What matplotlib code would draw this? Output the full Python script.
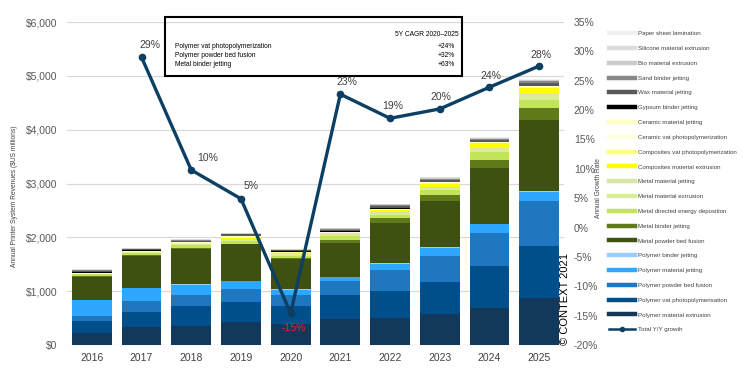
import numpy as np
import matplotlib
matplotlib.use('Agg')
import matplotlib.pyplot as plt
from matplotlib.lines import Line2D
from matplotlib.patches import Rectangle

plt.rcParams['font.family'] = ['Liberation Sans', 'DejaVu Sans']

years = ['2016', '2017', '2018', '2019', '2020', '2021', '2022', '2023', '2024', '2025']

# revenues in $US millions, bottom of stack first
poly_mat_extrusion = [223, 334, 353, 427, 390, 483, 507, 576, 687, 879]
poly_vat_photo = [229, 279, 372, 372, 334, 446, 496, 595, 780, 960]
poly_pbf = [93, 204, 204, 242, 204, 260, 390, 483, 613, 836]
poly_mat_jetting = [284, 236, 185, 140, 93, 65, 115, 150, 160, 175]
poly_binder_jetting = [13, 15, 15, 15, 10, 10, 10, 12, 12, 12]
metal_pbf = [427, 587, 661, 672, 561, 632, 739, 868, 1031, 1321]
metal_binder_jetting = [9, 26, 20, 10, 20, 56, 93, 111, 162, 223]
metal_ded = [37, 30, 40, 55, 42, 74, 62, 87, 136, 154]
metal_mat_extrusion = [6, 8, 20, 25, 30, 24, 30, 40, 56, 87]
metal_mat_jetting = [5, 5, 10, 20, 15, 12, 20, 20, 30, 24]
comp_mat_extrusion = [0, 3, 5, 10, 12, 18, 37, 55, 80, 106]
comp_vat_photo = [0, 3, 5, 10, 8, 8, 10, 15, 8, 10]
ceramic_vat_photo = [5, 3, 5, 10, 5, 6, 8, 10, 6, 8]
ceramic_mat_jetting = [10, 5, 10, 15, 10, 10, 12, 10, 6, 8]
gypsum_binder_jetting = [20, 20, 10, 5, 3, 5, 22, 5, 3, 3]
wax_mat_jetting = [15, 18, 20, 25, 22, 25, 25, 30, 37, 56]
sand_binder_jetting = [15, 15, 15, 15, 12, 22, 25, 25, 24, 43]
bio_mat_extrusion = [10, 8, 8, 8, 6, 10, 10, 12, 15, 15]
silicone_mat_extrusion = [8, 6, 6, 5, 4, 6, 6, 8, 6, 8]
paper_sheet_lamination = [6, 5, 5, 4, 3, 4, 5, 5, 4, 5]

growth_years = years[1:]
growth = [29.0, 9.8, 4.9, -14.6, 22.7, 18.6, 20.2, 23.9, 27.5]

cagr_names = ['Polymer vat photopolymerization', 'Polymer powder bed fusion', 'Metal binder jetting']
cagr_vals = ['+24%', '+32%', '+63%']

series = [
    ('Polymer material extrusion', poly_mat_extrusion, '#12395c'),
    ('Polymer vat photopolymerisation', poly_vat_photo, '#004f8a'),
    ('Polymer powder bed fusion', poly_pbf, '#1f77bf'),
    ('Polymer material jetting', poly_mat_jetting, '#2ea8ff'),
    ('Polymer binder jetting', poly_binder_jetting, '#99ccff'),
    ('Metal powder bed fusion', metal_pbf, '#3f5110'),
    ('Metal binder jetting', metal_binder_jetting, '#5e7a19'),
    ('Metal directed energy deposition', metal_ded, '#c3e35b'),
    ('Metal material extrusion', metal_mat_extrusion, '#d9ee97'),
    ('Metal material jetting', metal_mat_jetting, '#d6e6a5'),
    ('Composites material extrusion', comp_mat_extrusion, '#ffff00'),
    ('Composites vat photopolymerization', comp_vat_photo, '#ffff80'),
    ('Ceramic vat photopolymerization', ceramic_vat_photo, '#ffffdd'),
    ('Ceramic material jetting', ceramic_mat_jetting, '#ffffc0'),
    ('Gypsum binder jetting', gypsum_binder_jetting, '#000000'),
    ('Wax material jetting', wax_mat_jetting, '#595959'),
    ('Sand binder jetting', sand_binder_jetting, '#888888'),
    ('Bio material extrusion', bio_mat_extrusion, '#cccccc'),
    ('Silicone material extrusion', silicone_mat_extrusion, '#dddddd'),
    ('Paper sheet lamination', paper_sheet_lamination, '#f0f0f0'),
]

line_col = '#0d3f63'
txt_col = '#404040'

fig = plt.figure(figsize=(7.47, 3.77), dpi=100)
ax = fig.add_axes([67/747, 1-345/377, (564-67)/747, (345-22)/377])

x = np.arange(len(years))
bottom = np.zeros(len(years))
for name, vals, col in series:
    ax.bar(x, vals, 0.8, bottom=bottom, color=col, label=name, zorder=2)
    bottom += np.array(vals)

ax.set_xlim(-0.5, 9.5)
ax.set_ylim(0, 6000)
ax.set_yticks(range(0, 6001, 1000))
ax.set_yticklabels(['${:,}'.format(v) for v in range(0, 6001, 1000)])
ax.set_xticks(x)
ax.set_xticklabels(years)
ax.yaxis.grid(True, color='#d9d9d9', lw=0.9)
ax.set_axisbelow(True)
ax.tick_params(length=0, labelsize=7.5, labelcolor='#595959', pad=7)
ax.tick_params(axis='x', labelcolor=txt_col, pad=6)
for s in ax.spines.values():
    s.set_visible(False)

ax2 = ax.twinx()
gx = x[1:]
ax2.plot(gx, growth, color=line_col, lw=2.4, marker='o', ms=4.5, zorder=5)
ax2.set_ylim(-20, 35)
ax2.set_yticks(range(-20, 36, 5))
ax2.set_yticklabels(['{}%'.format(v) for v in range(-20, 36, 5)])
ax2.tick_params(length=0, labelsize=7.5, labelcolor='#595959', pad=7)
for s in ax2.spines.values():
    s.set_visible(False)

offs = [(8, 12), (16, 12), (10, 13), (3, -15), (7, 12), (3, 12), (1, 12), (1, 11), (2, 11)]
for xi, g, o in zip(gx, growth, offs):
    c = '#e8202a' if g < 0 else txt_col
    ax2.annotate('{:.0f}%'.format(g), (xi, g), xytext=o, textcoords='offset pixels',
                 ha='center', va='center', fontsize=7.5, color=c)

fig.text(15/747, 1-196/377, 'Annual Printer System Revenues ($US millions)', rotation=90,
         ha='center', va='center', fontsize=4.8, color=txt_col)
fig.text(599/747, 1-188/377, 'Annual Growth Rate', rotation=90,
         ha='center', va='center', fontsize=4.8, color=txt_col)
fig.text(565/747, 1-345/377, '© CONTEXT 2021', rotation=90,
         ha='center', va='bottom', fontsize=8, color='black')

# CAGR box
fig.add_artist(Rectangle((165/747, 1-75.5/377), (462-165)/747, (75.5-17)/377,
                         transform=fig.transFigure, fill=False, ec='black', lw=1.5))
fig.text(459/747, 1-34.5/377, '5Y CAGR 2020\u20132025', ha='right', va='center', fontsize=4.8)
for i, (n, v) in enumerate(zip(cagr_names, cagr_vals)):
    yy = 1 - (46 + i*9.5)/377
    fig.text(175/747, yy, n, ha='left', va='center', fontsize=4.8)
    fig.text(455/747, yy, v, ha='right', va='center', fontsize=4.8)

handles = [Line2D([0], [0], color=col, lw=3.2) for name, vals, col in series[::-1]]
labels = [name for name, vals, col in series[::-1]]
handles.append(Line2D([0, 0.5, 1], [0, 0, 0], color=line_col, lw=1.8, marker='o', ms=3, markevery=[1]))
labels.append('Total Y/Y growth')
fig.legend(handles, labels, loc='upper left', bbox_to_anchor=(607/747, 1-28.5/377),
           frameon=False, fontsize=4.4, labelspacing=1.56, handlelength=4.25,
           handletextpad=0.5, borderaxespad=0, labelcolor=txt_col)

fig.savefig('out.png', dpi=100)
